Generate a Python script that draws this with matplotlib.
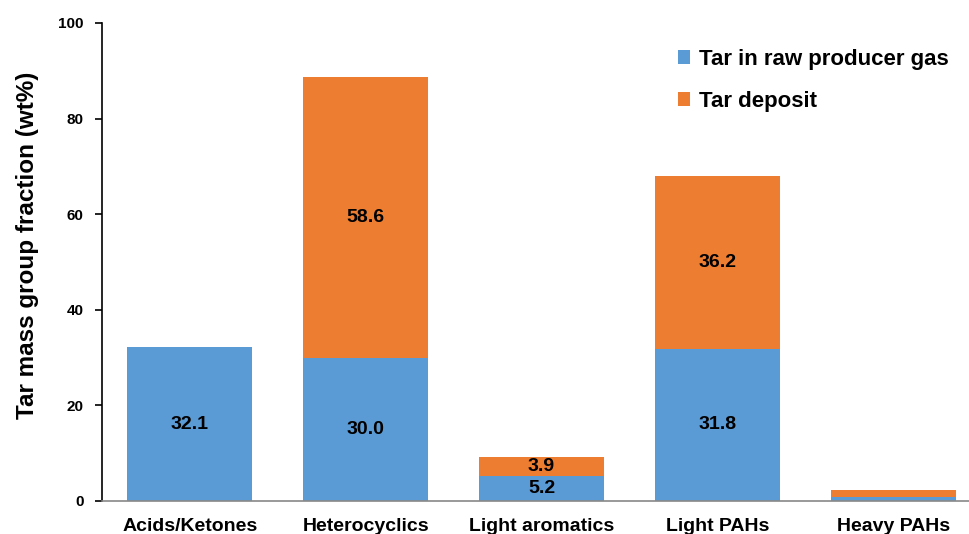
import matplotlib.pyplot as plt
import numpy as np

plt.rcParams['font.family'] = ['Liberation Sans', 'DejaVu Sans']
plt.rcParams['font.weight'] = 'bold'

categories = ['Acids/Ketones', 'Heterocyclics', 'Light aromatics', 'Light PAHs', 'Heavy PAHs']
raw_gas = [32.1, 30.0, 5.2, 31.8, 0.8]
deposit = [0.0, 58.6, 3.9, 36.2, 1.4]
raw_labels = ['32.1', '30.0', '5.2', '31.8', '']
deposit_labels = ['', '58.6', '3.9', '36.2', '']

blue = '#5B9BD5'
orange = '#ED7D31'

fig = plt.figure(figsize=(9.69, 5.34), dpi=100)
ax = fig.add_axes([0.105, 0.062, 0.895, 0.895])

x = np.arange(len(categories))
width = 0.71
ax.bar(x, raw_gas, width, color=blue, label='Tar in raw producer gas')
ax.bar(x, deposit, width, bottom=raw_gas, color=orange, label='Tar deposit')

# value labels centred in each segment
for xi, v, lab in zip(x, raw_gas, raw_labels):
    if lab:
        ax.text(xi, v / 2, lab, ha='center', va='center', fontsize=14, fontweight='bold')
for xi, b, v, lab in zip(x, raw_gas, deposit, deposit_labels):
    if lab:
        ax.text(xi, b + v / 2, lab, ha='center', va='center', fontsize=14, fontweight='bold')

ax.set_ylim(0, 100)
ax.set_xlim(-0.5, 4.43)
ax.set_yticks([0, 20, 40, 60, 80, 100])
ax.set_xticks(x)
ax.set_xticklabels(categories, fontsize=14, fontweight='bold')
ax.tick_params(axis='x', length=0, pad=12)
ax.tick_params(axis='y', labelsize=11, direction='out', length=5, width=1.2, pad=8)
ax.set_ylabel('Tar mass group fraction (wt%)', fontsize=17.5, fontweight='bold')
ax.yaxis.set_label_coords(-0.072, 0.535)

ax.spines['top'].set_visible(False)
ax.spines['right'].set_visible(False)
ax.spines['left'].set_linewidth(1.2)
ax.spines['bottom'].set_color('#888888')
ax.spines['bottom'].set_linewidth(1.2)

leg = ax.legend(loc='upper right', bbox_to_anchor=(1.0, 0.988), frameon=False,
                fontsize=16, handlelength=0.55, handleheight=0.55, handletextpad=0.4,
                labelspacing=0.95)
for t in leg.get_texts():
    t.set_fontweight('bold')

fig.savefig('out.png', dpi=100)
